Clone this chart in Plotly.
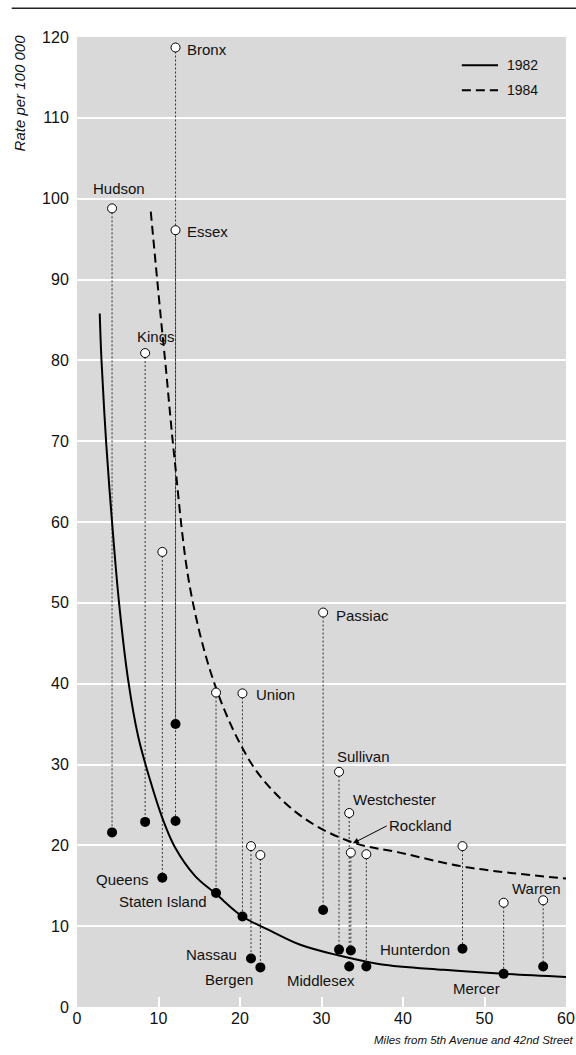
import plotly.graph_objects as go

# ---- data ----
counties = ["Hudson", "Kings", "Queens", "Bronx", "Essex", "Staten Island", "Union",
            "Nassau", "Bergen", "Passiac", "Sullivan", "Westchester", "Rockland",
            "Middlesex", "Hunterdon", "Mercer", "Warren"]
miles = [4.3, 8.36, 10.47, 12.09, 12.09, 17.06, 20.3, 21.35, 22.5, 30.2, 32.15,
         33.4, 33.6, 35.5, 47.3, 52.35, 57.2]
rate_1984 = [98.8, 80.9, 56.3, 118.7, 96.1, 38.9, 38.8, 19.9, 18.8, 48.8, 29.1,
             24.0, 19.1, 18.9, 19.9, 12.9, 13.2]
rate_1982 = [21.6, 22.9, 16.0, 35.0, 23.0, 14.1, 11.2, 6.0, 4.9, 12.0, 7.1,
             5.0, 7.0, 5.0, 7.2, 4.1, 5.0]

# fitted curves as drawn
fit82_x = [2.79, 3.0, 3.6, 4.3, 5.16, 6.27, 7.5, 8.93, 10.5, 12.0, 14.5, 17.04, 20.3,
           24.0, 27.4, 32.0, 37.2, 45.0, 52.35, 60.0]
fit82_y = [85.8, 80.1, 69.5, 60.0, 50.0, 40.5, 33.5, 28.2, 23.3, 19.8, 16.2, 14.0, 11.2,
           9.3, 7.7, 6.4, 5.3, 4.6, 4.1, 3.7]
fit84_x = [9.05, 10.37, 10.86, 11.94, 13.86, 16.7, 20.0, 22.85, 27.8, 33.7, 39.6, 47.8, 60.0]
fit84_y = [98.4, 84.4, 79.5, 68.1, 51.9, 40.5, 32.6, 28.1, 23.4, 20.4, 19.1, 17.3, 15.9]

series_names = ["1982", "1984"]

x_ticks = [0, 10, 20, 30, 40, 50, 60]
y_ticks = [0, 10, 20, 30, 40, 50, 60, 70, 80, 90, 100, 110, 120]

# label placement: (county, x, y, xanchor)
labels = [
    ("Bronx", 13.3, 118.4, "left"),
    ("Essex", 13.3, 96.0, "left"),
    ("Hudson", 5.16, 101.2, "center"),
    ("Kings", 9.66, 82.9, "center"),
    ("Passiac", 31.5, 48.4, "left"),
    ("Union", 21.7, 38.6, "left"),
    ("Sullivan", 31.6, 31.05, "left"),
    ("Westchester", 33.57, 25.66, "left"),
    ("Hunterdon", 46.0, 7.14, "right"),
    ("Warren", 59.65, 14.7, "right"),
    ("Mercer", 52.1, 2.28, "right"),
    ("Middlesex", 34.3, 3.3, "right"),
    ("Bergen", 21.82, 3.39, "right"),
    ("Nassau", 19.89, 6.52, "right"),
    ("Staten Island", 16.2, 13.1, "right"),
    ("Queens", 9.05, 15.8, "right"),
]

FONT = "Liberation Sans, Arial, sans-serif"
BG = "#d9d9d9"
TXT = "#111111"
DASH = "9px,5px"

fig = go.Figure()

# dotted connectors
cx, cy = [], []
for m, a, b in zip(miles, rate_1984, rate_1982):
    cx += [m, m, None]
    cy += [a, b, None]
fig.add_trace(go.Scatter(x=cx, y=cy, mode="lines",
                         line=dict(color="#333333", width=1, dash="2px,2px"),
                         showlegend=False, hoverinfo="skip"))

# curves
fig.add_trace(go.Scatter(x=fit82_x, y=fit82_y, mode="lines", name=series_names[0],
                         showlegend=False,
                         line=dict(color="black", width=2, shape="spline", smoothing=1.0)))
fig.add_trace(go.Scatter(x=fit84_x, y=fit84_y, mode="lines", name=series_names[1],
                         showlegend=False,
                         line=dict(color="black", width=2, shape="spline", dash=DASH)))

# markers
fig.add_trace(go.Scatter(x=miles, y=rate_1982, mode="markers", showlegend=False,
                         marker=dict(color="black", size=10, line=dict(width=0)),
                         text=counties))
fig.add_trace(go.Scatter(x=miles, y=rate_1984, mode="markers", showlegend=False,
                         marker=dict(color="white", size=9, line=dict(color="black", width=1)),
                         text=counties))

for name, lx, ly, anc in labels:
    fig.add_annotation(x=lx, y=ly, text=name, showarrow=False, xanchor=anc,
                       yanchor="middle", font=dict(family=FONT, size=15, color=TXT))

# Rockland with arrow
fig.add_annotation(x=33.85, y=20.25, ax=38.0, ay=22.4, axref="x", ayref="y",
                   text="Rockland", showarrow=True, arrowhead=2, arrowsize=1.2,
                   arrowwidth=1, arrowcolor="black", standoff=0,
                   xanchor="left", yanchor="middle",
                   font=dict(family=FONT, size=15, color=TXT))

# legend (drawn manually to match the original layout)
for name, ly, dash in [(series_names[0], 0.9708, "solid"), (series_names[1], 0.9451, DASH)]:
    fig.add_shape(type="line", xref="paper", yref="paper", x0=0.787, x1=0.861,
                  y0=ly, y1=ly, line=dict(color="black", width=2, dash=dash))
    fig.add_annotation(xref="paper", yref="paper", x=0.875, y=ly, text=name,
                       showarrow=False, xanchor="left", yanchor="middle",
                       font=dict(family=FONT, size=14, color=TXT))

# axis titles
fig.add_annotation(xref="paper", yref="paper", x=-0.117, y=1.005, text="<i>Rate per 100 000</i>",
                   textangle=-90, showarrow=False, xanchor="center", yanchor="top",
                   font=dict(family=FONT, size=15, color=TXT))
fig.add_annotation(xref="paper", yref="paper", x=1.021, y=-0.034,
                   text="<i>Miles from 5th Avenue and 42nd Street</i>",
                   showarrow=False, xanchor="right", yanchor="middle",
                   font=dict(family=FONT, size=11.5, color=TXT))

# top rule
fig.add_shape(type="line", xref="paper", yref="paper", x0=-0.1335, x1=1.03,
              y0=1.0296, y1=1.0296, line=dict(color="#222", width=1.5))

fig.update_layout(
    template="none",
    width=576, height=1055, autosize=False,
    margin=dict(l=77, r=10, t=37, b=48, autoexpand=False),
    paper_bgcolor="white", plot_bgcolor=BG,
    font=dict(family=FONT, size=16, color=TXT),
    showlegend=False,
)
fig.update_xaxes(range=[0, 60], tickvals=x_ticks, ticks="inside", ticklen=10,
                 tickcolor="white", tickwidth=1.5, showgrid=False, zeroline=False,
                 showline=False, fixedrange=True, automargin=False,
                 tickfont=dict(size=16, color=TXT))
fig.update_yaxes(range=[0, 120], tickvals=y_ticks, ticks="outside", ticklen=4,
                 tickcolor="rgba(0,0,0,0)", showgrid=True, gridcolor="white",
                 gridwidth=1.5, zeroline=False, showline=False, fixedrange=True,
                 automargin=False, tickfont=dict(size=16, color=TXT))

fig.write_html("out.html", config={"displayModeBar": False, "responsive": False},
               post_script="document.body.style.margin='0';document.body.style.overflow='hidden';")
